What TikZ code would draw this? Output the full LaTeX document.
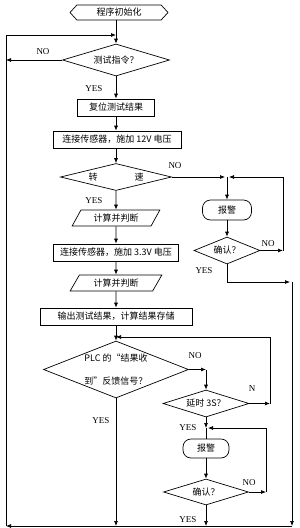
\documentclass[tikz,border=0pt]{standalone}
\usepackage{fontspec}
\setmainfont{Liberation Serif}
\newfontfamily\cjk{Noto Sans CJK SC}
\usetikzlibrary{shapes.geometric,shapes.symbols,arrows.meta}
\begin{document}
\begin{tikzpicture}[x=1pt,y=-1pt,
  line width=0.7pt,
  every node/.style={font=\cjk\fontsize{9}{11}\selectfont, inner sep=0pt},
  proc/.style={draw, rectangle, minimum height=17pt},
  dec/.style={draw, diamond},
  io/.style={draw, trapezium, trapezium left angle=56, trapezium right angle=124, trapezium stretches=true, minimum height=16pt},
  alarm/.style={draw, rectangle, rounded corners=8pt, minimum height=20pt},
  lbl/.style={font=\rmfamily\fontsize{9}{11}\selectfont},
  arr/.style={-{Latex[length=5pt,width=4pt]}},
]
\useasboundingbox (0,0) rectangle (300,528);
% main column
\node[draw, signal, signal to=west and east, signal pointer angle=95, minimum width=98pt, minimum height=15pt] (init) at (119,12.5) {程序初始化};
\node[dec, aspect=3.3, minimum width=107pt, minimum height=32pt] (q1) at (116,60) {测试指令？};
\node[proc, minimum width=77pt] (b1) at (116,107.5) {复位测试结果};
\node[proc, minimum width=128pt] (b2) at (117,139.5) {连接传感器，施加 12V 电压};
\node[dec, aspect=4.1, minimum width=111pt, minimum height=27pt] (q2) at (116,177) {\raisebox{-2pt}{转\hspace{37pt}速}};
\node[io, minimum width=88pt] (p1) at (116,218) {计算并判断};
\node[proc, minimum width=125pt] (b3) at (116,252.5) {连接传感器，施加 3.3V 电压};
\node[io, minimum width=92pt] (p2) at (116,283) {计算并判断};
\node[proc, minimum width=152pt] (b4) at (116,316.5) {输出测试结果，计算结果存储};
\node[dec, aspect=2.5, minimum width=145pt, minimum height=57pt, align=left] (q3) at (116,369.5) {PLC 的“结果收\\[12pt]到”反馈信号？};
% lower right column
\node[dec, aspect=3.2, minimum width=86pt, minimum height=27pt] (q4) at (206,403.5) {延时 3S？};
\node[alarm, minimum width=46pt, minimum height=19pt] (a2) at (206,448.5) {报警};
\node[dec, aspect=3.2, minimum width=85pt, minimum height=26pt] (q5) at (206,492) {确认？};
% upper right column
\node[alarm, minimum width=49pt] (a1) at (227,210) {报警};
\node[dec, aspect=2.4, minimum width=66pt, minimum height=27pt] (q6) at (227,250.5) {确认？};
% coordinates
\coordinate (lt) at (6,35);
\coordinate (lb) at (6,526);
\coordinate (rb) at (292,526);
\coordinate (j1) at (227,177);
\coordinate (r1) at (283,177);
\coordinate (y1) at (292,282);
\coordinate (j3) at (116,337);
\coordinate (r3) at (270,337);
\coordinate (c3) at (206,369.5);
\coordinate (j4) at (206,428);
\coordinate (r4) at (266,428);
% main flow
\draw[arr] (init.south -| q1.north) -- (q1.north);
\draw[arr] (lb) -- (lt) -- (lt -| q1.north);
\draw[arr] (q1.west) -- (q1.west -| lt);
\draw[arr] (q1.south) -- (b1.north);
\draw[arr] (b1.south) -- (b1.south |- b2.north);
\draw[arr] (b2.south -| q2.north) -- (q2.north);
\draw[arr] (q2.south) -- (p1.north);
\draw[arr] (p1.south) -- (b3.north);
\draw[arr] (b3.south) -- (p2.north);
\draw[arr] (p2.south) -- (b4.north);
\draw[arr] (b4.south) -- (q3.north);
\draw[arr] (q3.south) -- (q3.south |- lb);
% first alarm loop
\draw[arr,shorten >=2pt] (q2.east) -- (j1);
\draw[arr] (j1) -- (a1.north);
\draw[arr] (a1.south) -- (q6.north);
\draw[arr] (q6.east) -- (q6.east -| r1);
\draw[arr,shorten >=2pt] (q6.east -| r1) -- (r1) -- (j1);
\draw[arr] (q6.south) |- ([xshift=-2pt]y1);
\draw[arr] (y1) -- (y1 |- rb);
\draw[arr] (rb) -- (lb);
% PLC loop
\draw[arr] (q3.east) -- (c3);
\draw[arr] (c3) -- (q4.north);
\draw[arr] (q4.east) -- (q4.east -| r3);
\draw[arr] (q4.east -| r3) -- (r3) -- (j3);
\draw[arr] (q4.south) -- (j4);
\draw (j4) -- (a2.north);
\draw[arr] (a2.south) -- (q5.north);
\draw[arr] (q5.east) -- (q5.east -| r4);
\draw[arr,shorten >=2pt] (q5.east -| r4) -- (r4) -- (j4);
\draw[arr] (q5.south) -- (q5.south |- lb);
% labels
\node[lbl] (l1) at (43,52) {NO};
\node[lbl] (l2) at (94,89) {YES};
\node[lbl] (l3) at (175,166) {NO};
\node[lbl] (l4) at (94,201) {YES};
\node[lbl] (l5) at (268,244) {NO};
\node[lbl] (l6) at (204,271) {YES};
\node[lbl] (l7) at (195,356) {NO};
\node[lbl] (l8) at (252,389) {N};
\node[lbl] (l9) at (188,428) {YES};
\node[lbl] (l10) at (249,483) {NO};
\node[lbl] (l11) at (188,520) {YES};
\node[lbl] (l12) at (101,421) {YES};
\end{tikzpicture}
\end{document}
